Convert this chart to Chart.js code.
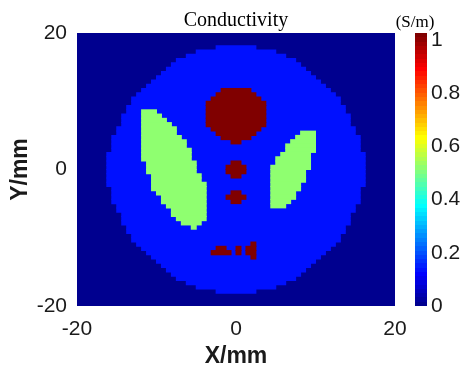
<!DOCTYPE html>
<html>
<head>
<meta charset="utf-8">
<script src="https://cdn.jsdelivr.net/npm/chart.js@4.4.0/dist/chart.umd.min.js"></script>
<style>
  html, body { margin: 0; padding: 0; background: #fff; }
  #caja { width: 463px; height: 368px; }
</style>
</head>
<body>
<div id="caja"><canvas id="mapaChart"></canvas></div>
<script>
// image is a 64 x 64 grid over -20..20 mm, rows counted from the top
const gridN = 64;
const axisTicks = [-20, 0, 20];
const cbTicks = [0, 0.2, 0.4, 0.6, 0.8, 1];

// conductivity of each region (S/m)
const levelOutside = 0;
const levelBody = 0.13;
const levelLung = 0.5;
const levelHeart = 1;

// runs of cells: [row, firstCol, lastCol]
const bodyRuns = [
  [3,28,35],[4,24,39],[5,22,41],[6,20,43],[7,19,44],[8,18,45],[9,17,46],[10,16,47],
  [11,15,48],[12,14,49],[13,13,50],[14,12,51],[15,11,52],[16,11,52],[17,10,53],[18,10,53],
  [19,9,54],[20,9,54],[21,9,54],[22,8,55],[23,8,55],[24,7,56],[25,7,56],[26,7,56],
  [27,7,56],[28,6,57],[29,6,57],[30,6,57],[31,6,57],[32,6,57],[33,6,57],[34,6,57],
  [35,6,57],[36,7,56],[37,7,56],[38,7,56],[39,7,56],[40,8,55],[41,8,55],[42,9,54],
  [43,9,54],[44,9,54],[45,10,53],[46,10,53],[47,11,52],[48,11,52],[49,12,51],[50,13,50],
  [51,14,49],[52,15,48],[53,16,47],[54,17,46],[55,18,45],[56,19,44],[57,20,43],[58,22,41],
  [59,24,39],[60,28,35]
];
const lungLeft = [
  [18,13,15],[19,13,16],[20,13,17],[21,13,18],[22,13,19],[23,13,19],[24,13,20],[25,13,21],
  [26,13,21],[27,13,22],[28,13,22],[29,13,22],[30,14,23],[31,14,23],[32,14,23],[33,15,24],
  [34,15,24],[35,15,25],[36,15,25],[37,16,25],[38,17,25],[39,17,25],[40,18,25],[41,19,25],
  [42,19,25],[43,20,25],[44,21,24],[45,23,23]
];
const lungRight = [
  [23,45,47],[24,44,47],[25,43,47],[26,42,47],[27,42,47],[28,41,46],[29,40,46],[30,40,46],
  [31,39,46],[32,39,45],[33,39,45],[34,39,45],[35,39,44],[36,39,44],[37,39,43],[38,39,43],
  [39,39,42],[40,39,41]
];
const heart = [
  [13,29,34],[14,28,35],[15,27,36],[16,26,37],[17,26,37],[18,26,37],[19,26,37],[20,26,37],
  [21,26,37],[22,27,36],[23,28,35],[24,29,34],[25,31,32]
];
const dotTop = [[30,31,32],[31,30,33],[32,30,33],[33,31,32]];
const dotBottom = [[37,31,32],[38,30,33],[39,31,32]];
const marksBottom = [
  [50,28,29],[51,27,30],[50,32,32],[51,32,32],
  [49,35,35],[50,34,35],[51,34,35],[52,35,35]
];

// continuous jet, MATLAB jet(64) picks (k+1)/64
function jetRGB(x) {
  let c = (a, b) => Math.round(255 * Math.min(Math.max(Math.min(4 * x + a, -4 * x + b), 0), 1));
  return 'rgb(' + c(-1.5, 4.5) + ',' + c(-0.5, 3.5) + ',' + c(0.5, 2.5) + ')';
}
function jet(v) {
  let k = Math.min(Math.floor(v * 64), 63);
  return jetRGB((k + 1) / 64);
}

function toBars(runs) {
  let paso = 40 / gridN;
  return runs.map(r => ({
    y: 20 - paso * (r[0] + 0.5),
    x: [-20 + paso * r[1], -20 + paso * (r[2] + 1)]
  }));
}

const fondoYBarra = {
  id: 'fondoYBarra',
  beforeDatasetsDraw(chart) {
    let a = chart.chartArea, ctx = chart.ctx;
    ctx.save();
    ctx.fillStyle = jet(levelOutside);
    ctx.fillRect(a.left, a.top, a.right - a.left, a.bottom - a.top);
    ctx.restore();
  },
  afterDraw(chart) {
    let cb = chart.scales.cb, ctx = chart.ctx;
    let top = cb.getPixelForValue(cb.max);
    let bot = cb.getPixelForValue(cb.min);
    let g = ctx.createLinearGradient(0, bot, 0, top);
    for (let k = 0; k < 64; k++) {
      let col = jetRGB((k + 1) / 64);
      g.addColorStop(k / 64, col);
      g.addColorStop((k + 1) / 64, col);
    }
    ctx.save();
    ctx.fillStyle = g;
    ctx.fillRect(cb.left + 20, top, 12, bot - top);
    ctx.fillStyle = '#000';
    ctx.font = '17px "Liberation Serif", "Times New Roman", serif';
    ctx.textAlign = 'center';
    ctx.textBaseline = 'alphabetic';
    ctx.fillText('(S/m)', cb.left + 20, 27);
    ctx.restore();
  }
};

window.addEventListener('load', function() {
  let ctx = document.getElementById('mapaChart').getContext('2d');
  let sans = '"Liberation Sans", Arial, sans-serif';
  let textColor = '#1a1a1a';
  new Chart(ctx, {
    type: 'bar',
    data: {
      datasets: [
        { label: 'heart', data: toBars(heart.concat(dotTop, dotBottom, marksBottom)), backgroundColor: jet(levelHeart), order: 1 },
        { label: 'lungs', data: toBars(lungLeft.concat(lungRight)), backgroundColor: jet(levelLung), order: 2 },
        { label: 'body', data: toBars(bodyRuns), backgroundColor: jet(levelBody), order: 3 }
      ]
    },
    options: {
      indexAxis: 'y',
      responsive: true,
      maintainAspectRatio: false,
      animation: false,
      events: [],
      datasets: {
        bar: {
          grouped: false,
          barPercentage: 1,
          categoryPercentage: 1,
          borderWidth: 0,
          inflateAmount: 0.5
        }
      },
      layout: { padding: { left: 9, top: 0, right: 0, bottom: 0 } },
      plugins: {
        legend: { display: false },
        tooltip: { enabled: false },
        title: {
          display: true,
          text: 'Conductivity',
          color: '#000',
          font: { family: '"Liberation Serif", "Times New Roman", serif', size: 20, weight: 'normal', lineHeight: 1.2 },
          padding: { top: 9, bottom: 0 }
        }
      },
      scales: {
        x: {
          type: 'linear', position: 'bottom', min: -20, max: 20, offset: false,
          afterBuildTicks: s => { s.ticks = axisTicks.map(v => ({ value: v })); },
          afterFit: s => { s.height = 62; },
          grid: { display: false, drawTicks: false, offset: false },
          border: { display: false },
          ticks: { color: textColor, font: { family: sans, size: 21 }, padding: 11, maxRotation: 0, autoSkip: false },
          title: { display: true, text: 'X/mm', color: textColor, font: { family: sans, size: 23, weight: 'bold', lineHeight: 1 }, padding: { top: 0, bottom: 0 } }
        },
        y: {
          type: 'linear', position: 'left', min: -20, max: 20, offset: false,
          afterBuildTicks: s => { s.ticks = axisTicks.map(v => ({ value: v })); },
          afterFit: s => { s.width = 68; s.paddingTop = 0; s.paddingBottom = 0; },
          grid: { display: false, drawTicks: false, offset: false },
          border: { display: false },
          ticks: { color: textColor, font: { family: sans, size: 21 }, padding: 10, autoSkip: false },
          title: { display: true, text: 'Y/mm', color: textColor, font: { family: sans, size: 23, weight: 'bold', lineHeight: 1 }, padding: { top: 0, bottom: 0 } }
        },
        cb: {
          type: 'linear', axis: 'y', position: 'right', min: 0, max: 1.026, offset: false,
          afterBuildTicks: s => { s.ticks = cbTicks.map(v => ({ value: v })); },
          afterFit: s => { s.width = 68; s.paddingTop = 0; s.paddingBottom = 0; },
          grid: { display: false, drawTicks: false, offset: false },
          border: { display: false },
          ticks: { color: textColor, font: { family: sans, size: 21 }, padding: 36, autoSkip: false,
                   callback: v => String(Math.round(v * 10) / 10) }
        }
      }
    },
    plugins: [fondoYBarra]
  });
});
</script>
</body>
</html>
